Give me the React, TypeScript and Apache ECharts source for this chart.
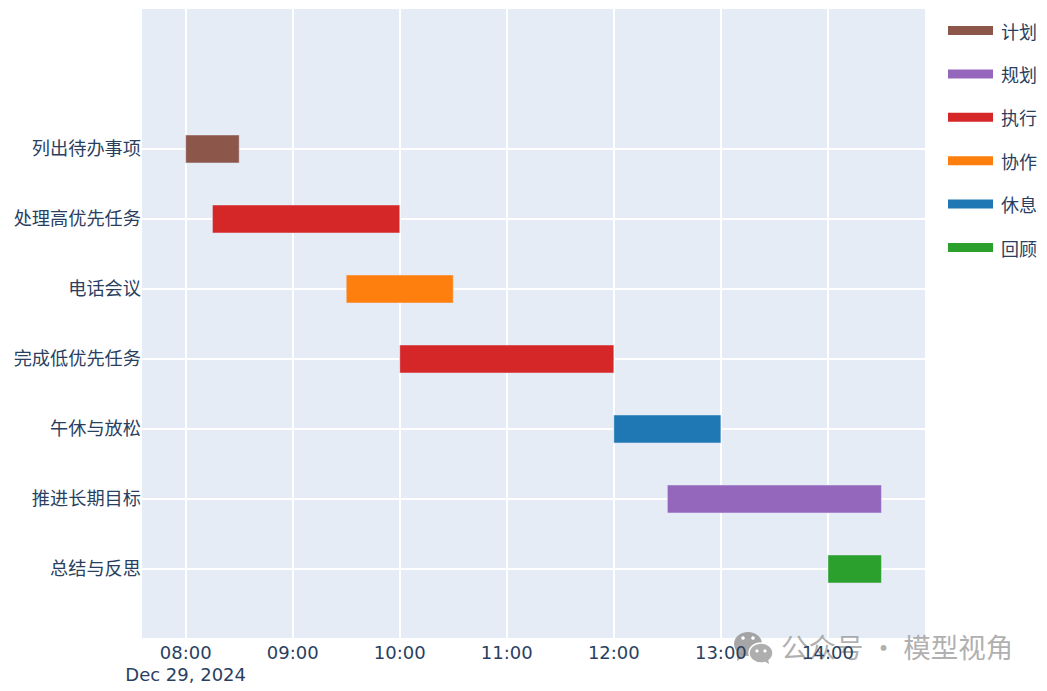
import React, { useEffect, useRef } from "react";
import * as echarts from "echarts";

const tasks = ["列出待办事项", "处理高优先任务", "电话会议", "完成低优先任务", "午休与放松", "推进长期目标", "总结与反思"];
const starts = [8, 8.25, 9.5, 10, 12, 12.5, 14];
const ends = [8.5, 10, 10.5, 12, 13, 14.5, 14.5];
const phases = ["计划", "执行", "协作", "执行", "休息", "规划", "回顾"];
const legendOrder = ["计划", "规划", "执行", "协作", "休息", "回顾"];
const phaseColors = ["#8c564b", "#9467bd", "#d62728", "#ff7f0e", "#1f77b4", "#2ca02c"];
const hourTicks = [8, 9, 10, 11, 12, 13, 14];
const dateLabel = "Dec 29, 2024";
const taskTicks = tasks.map((_, i) => i);
const INK = "#2a3f5f";
const CJK = '"Noto Sans CJK SC", "Noto Sans", sans-serif';

const pad = (n: number) => String(n).padStart(2, "0");

export default function App() {
  const ref = useRef<HTMLDivElement>(null);
  useEffect(() => {
    const chart = echarts.init(ref.current!, undefined, { renderer: "svg" });
    const series = legendOrder.map((name, k) => ({
      name,
      type: "custom" as const,
      encode: { x: [0, 1], y: 2 },
      itemStyle: { color: phaseColors[k] },
      data: tasks
        .map((_, i) => [starts[i], ends[i], i, phases[i]])
        .filter((d) => d[3] === name)
        .map((d) => d.slice(0, 3)),
      renderItem: (_: any, api: any) => {
        const a = api.coord([api.value(0), api.value(2)]);
        const b = api.coord([api.value(1), api.value(2)]);
        const h = api.size([0, 0.4])[1];
        return {
          type: "rect",
          shape: { x: a[0], y: a[1] - h / 2, width: b[0] - a[0], height: h },
          style: { fill: phaseColors[k], stroke: "#E5ECF6", lineWidth: 0.5 },
        };
      },
    }));
    chart.setOption({
      animation: false,
      backgroundColor: "#fff",
      grid: { left: 142, top: 9, width: 783, height: 629, backgroundColor: "#E5ECF6", show: true, borderWidth: 0 },
      xAxis: {
        type: "value",
        min: 7.592,
        max: 14.907,
        axisLine: { show: false },
        axisTick: { show: false, customValues: hourTicks },
        splitLine: { show: true, lineStyle: { color: "#fff", width: 2 } },
        axisLabel: {
          customValues: hourTicks,
          margin: 3,
          color: INK,
          fontSize: 18,
          fontFamily: '"DejaVu Sans", sans-serif',
          lineHeight: 22,
          verticalAlign: "top",
          hideOverlap: false,
          formatter: (v: number) => `${pad(Math.round(v))}:00${Math.round(v) === hourTicks[0] ? "\n" + dateLabel : ""}`,
        },
      },
      yAxis: {
        type: "value",
        inverse: true,
        min: -2,
        max: 6.986,
        axisLine: { show: false },
        axisTick: { show: false, customValues: taskTicks },
        splitLine: { show: true, lineStyle: { color: "#fff", width: 2 } },
        axisLabel: {
          customValues: taskTicks,
          margin: 1,
          color: INK,
          fontSize: 18.2,
          fontFamily: CJK,
          verticalAlign: "bottom",
          lineHeight: 3,
          formatter: (v: number) => tasks[Math.round(v)] ?? "",
        },
      },
      legend: {
        orient: "vertical",
        left: 943,
        top: 12,
        itemWidth: 45,
        itemHeight: 9,
        itemGap: 16.4,
        icon: "rect",
        data: legendOrder,
        textStyle: { color: INK, fontSize: 18, fontFamily: CJK, padding: [0, 0, 2, 3], height: 25, lineHeight: 25 },
      },
      series,
      graphic: [
        {
          type: "group",
          z: 100,
          silent: true,
          children: [
            { type: "ellipse", shape: { cx: 748, cy: 644, rx: 14, ry: 12 }, style: { fill: "rgba(150,150,150,0.85)" } },
            { type: "polygon", shape: { points: [[738, 652], [737, 661], [746, 655]] }, style: { fill: "rgba(150,150,150,0.85)" } },
            { type: "ellipse", shape: { cx: 761, cy: 653, rx: 12, ry: 10 }, style: { fill: "#aeaeae", stroke: "#fff", lineWidth: 1.5 } },
            { type: "polygon", shape: { points: [[764, 661], [769, 664], [768, 659]] }, style: { fill: "#aeaeae" } },
            { type: "circle", shape: { cx: 743, cy: 638, r: 1.8 }, style: { fill: "#fff" } },
            { type: "circle", shape: { cx: 753, cy: 638, r: 1.8 }, style: { fill: "#fff" } },
            { type: "circle", shape: { cx: 757, cy: 651, r: 1.6 }, style: { fill: "#fff" } },
            { type: "circle", shape: { cx: 765, cy: 651, r: 1.6 }, style: { fill: "#fff" } },
            {
              type: "text",
              x: 781,
              y: 632,
              style: { text: "公众号 · 模型视角", fill: "rgba(150,150,150,0.75)", fontSize: 27.5, fontFamily: CJK },
            },
          ],
        },
      ],
    });
    return () => chart.dispose();
  }, []);
  return <div ref={ref} style={{ position: "absolute", left: 0, top: 0, width: 1047, height: 691 }} />;
}
